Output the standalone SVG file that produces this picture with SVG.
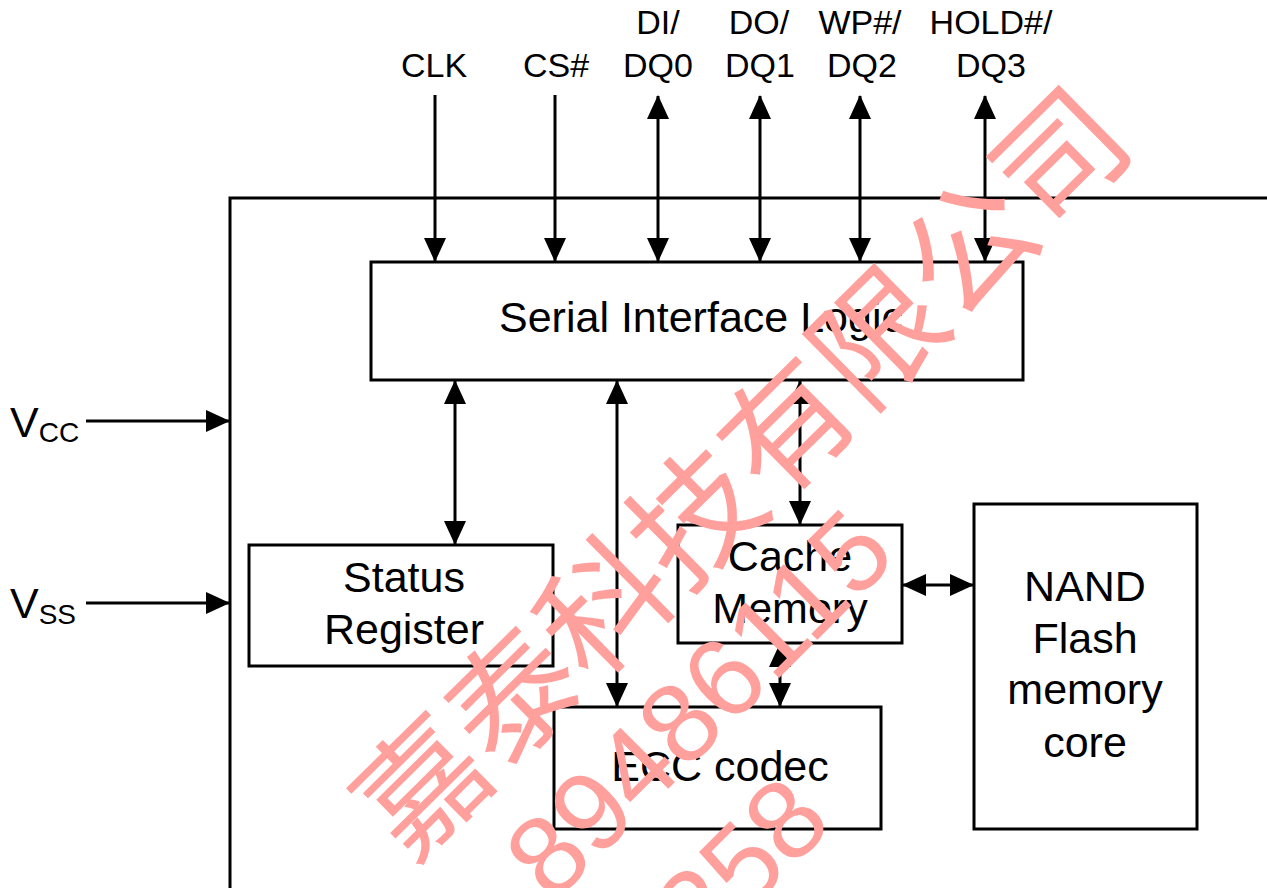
<svg xmlns="http://www.w3.org/2000/svg" width="1267" height="888" viewBox="0 0 1267 888">
<style>
.box{fill:#fff;stroke:#000;stroke-width:3}
.ln{fill:none;stroke:#000;stroke-width:3}
.t{font-family:"Liberation Sans",Arial,sans-serif;font-size:43px;fill:#000;text-anchor:middle}
.p{font-family:"Liberation Sans",Arial,sans-serif;font-size:34px;fill:#000;text-anchor:middle}
.wm{fill:#ffa09c;font-family:"Liberation Sans","Noto Sans CJK SC",sans-serif}
</style>
<defs>
<marker id="ah" markerUnits="userSpaceOnUse" markerWidth="24" markerHeight="22" refX="23" refY="11" orient="auto-start-reverse" viewBox="0 0 24 22">
<path d="M0,0 L24,11 L0,22 z" fill="#000"/>
</marker>
</defs>
<rect width="1267" height="888" fill="#fff"/>
<g id="chip">
<path class="ln" d="M230,890 V198 H1270"/>
</g>
<g id="serial-interface-logic">
<rect class="box" x="371" y="262" width="652" height="118"/>
<text class="t" x="701" y="332">Serial Interface Logic</text>
</g>
<g id="status-register">
<rect class="box" x="249" y="545" width="304" height="121"/>
<text class="t" x="404" y="592">Status</text>
<text class="t" x="404" y="644">Register</text>
</g>
<g id="cache-memory">
<rect class="box" x="678" y="525" width="224" height="118"/>
<text class="t" x="790" y="571">Cache</text>
<text class="t" x="790" y="623">Memory</text>
</g>
<g id="ecc-codec">
<rect class="box" x="554" y="707" width="327" height="122"/>
<text class="t" x="720" y="781">ECC codec</text>
</g>
<g id="nand-core">
<rect class="box" x="974" y="504" width="223" height="325"/>
<text class="t" x="1085" y="601">NAND</text>
<text class="t" x="1085" y="653">Flash</text>
<text class="t" x="1085" y="704">memory</text>
<text class="t" x="1085" y="757">core</text>
</g>
<g id="pins">
<text class="p" x="434" y="77">CLK</text>
<text class="p" x="556" y="77">CS#</text>
<text class="p" x="658" y="34">DI/</text>
<text class="p" x="658" y="77">DQ0</text>
<text class="p" x="759" y="34">DO/</text>
<text class="p" x="760" y="77">DQ1</text>
<text class="p" x="860" y="34">WP#/</text>
<text class="p" x="862" y="77">DQ2</text>
<text class="p" x="991" y="34">HOLD#/</text>
<text class="p" x="991" y="77">DQ3</text>
<text class="t" x="10" y="437" style="text-anchor:start">V<tspan font-size="28" dy="5">CC</tspan></text>
<text class="t" x="10" y="618" style="text-anchor:start">V<tspan font-size="28" dy="6">SS</tspan></text>
</g>
<g id="connectors">
<line class="ln" x1="435" y1="95" x2="435" y2="261" marker-end="url(#ah)"/>
<line class="ln" x1="555" y1="95" x2="555" y2="261" marker-end="url(#ah)"/>
<line class="ln" x1="658" y1="96" x2="658" y2="261" marker-start="url(#ah)" marker-end="url(#ah)"/>
<line class="ln" x1="760" y1="96" x2="760" y2="261" marker-start="url(#ah)" marker-end="url(#ah)"/>
<line class="ln" x1="860" y1="96" x2="860" y2="261" marker-start="url(#ah)" marker-end="url(#ah)"/>
<line class="ln" x1="985" y1="96" x2="985" y2="261" marker-start="url(#ah)" marker-end="url(#ah)"/>
<line class="ln" x1="455" y1="381" x2="455" y2="544" marker-start="url(#ah)" marker-end="url(#ah)"/>
<line class="ln" x1="617" y1="381" x2="617" y2="706" marker-start="url(#ah)" marker-end="url(#ah)"/>
<line class="ln" x1="800" y1="381" x2="800" y2="524" marker-start="url(#ah)" marker-end="url(#ah)"/>
<line class="ln" x1="780" y1="644" x2="780" y2="706" marker-start="url(#ah)" marker-end="url(#ah)"/>
<line class="ln" x1="903" y1="585" x2="973" y2="585" marker-start="url(#ah)" marker-end="url(#ah)"/>
<line class="ln" x1="86" y1="421" x2="229" y2="421" marker-end="url(#ah)"/>
<line class="ln" x1="86" y1="603" x2="229" y2="603" marker-end="url(#ah)"/>
</g>
<g id="watermark">
<text class="wm" font-size="128" text-anchor="middle" transform="translate(774,505) rotate(-44.6)">嘉泰科技有限公司</text>
<text class="wm" font-size="112" text-anchor="middle" transform="translate(726,731) rotate(-45)">89486115</text>
<text class="wm" font-size="112" text-anchor="end" transform="translate(835,825) rotate(-45)">258</text>
</g>
</svg>
